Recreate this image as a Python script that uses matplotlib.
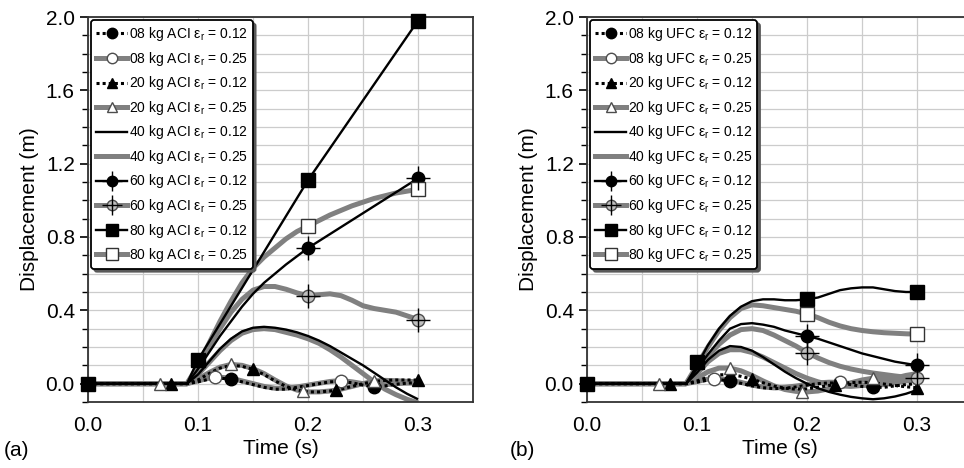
import matplotlib
matplotlib.use('Agg')
import matplotlib.pyplot as plt
from matplotlib.lines import Line2D
from matplotlib.ticker import MultipleLocator, FormatStrFormatter

plt.rcParams['font.family'] = ['Liberation Sans', 'DejaVu Sans']
plt.rcParams['mathtext.fontset'] = 'custom'
plt.rcParams['mathtext.rm'] = 'Liberation Sans'

# common time grid (s)
T = [0.0, 0.09, 0.10, 0.11, 0.12, 0.13, 0.14, 0.15, 0.16, 0.17, 0.18, 0.19,
     0.20, 0.21, 0.22, 0.23, 0.24, 0.25, 0.26, 0.27, 0.28, 0.29, 0.30]

# ---- panel (a) ACI ----
a08_12 = [0, 0, 0.01, 0.025, 0.03, 0.025, 0.01, -0.005, -0.02, -0.03, -0.03, -0.02,
          -0.01, 0.0, 0.01, 0.012, 0.005, -0.008, -0.018, -0.012, -0.003, 0.003, 0.005]
a08_25 = [0, 0, 0.015, 0.03, 0.035, 0.03, 0.015, 0.0, -0.015, -0.025, -0.025, -0.018,
          -0.008, 0.002, 0.012, 0.017, 0.01, 0.0, -0.01, -0.006, 0.0, 0.003, 0.003]
a20_12 = [0, 0, 0.02, 0.055, 0.085, 0.1, 0.095, 0.078, 0.05, 0.015, -0.015, -0.035,
          -0.045, -0.045, -0.04, -0.03, -0.015, 0.0, 0.012, 0.018, 0.02, 0.02, 0.02]
a20_25 = [0, 0, 0.025, 0.06, 0.09, 0.105, 0.1, 0.082, 0.055, 0.02, -0.012, -0.035,
          -0.045, -0.045, -0.04, -0.03, -0.015, 0.0, 0.015, 0.018, 0.016, 0.013, 0.01]
a40_12 = [0, 0, 0.05, 0.12, 0.19, 0.245, 0.285, 0.305, 0.31, 0.305, 0.295, 0.28,
          0.26, 0.235, 0.205, 0.17, 0.135, 0.1, 0.06, 0.02, -0.02, -0.055, -0.085]
a40_25 = [0, 0, 0.05, 0.115, 0.18, 0.235, 0.275, 0.295, 0.3, 0.295, 0.28, 0.265,
          0.245, 0.22, 0.185, 0.145, 0.1, 0.055, 0.01, -0.03, -0.06, -0.085, -0.105]
a60_12_t = [0.0, 0.09, 0.10, 0.11, 0.12, 0.13, 0.14, 0.15, 0.16, 0.17, 0.18, 0.19, 0.20, 0.30]
a60_12 = [0, 0, 0.08, 0.17, 0.26, 0.34, 0.42, 0.49, 0.55, 0.6, 0.65, 0.695, 0.74, 1.12]
a60_25 = [0, 0, 0.09, 0.2, 0.3, 0.39, 0.46, 0.51, 0.53, 0.53, 0.515, 0.495,
          0.48, 0.485, 0.49, 0.48, 0.455, 0.425, 0.41, 0.4, 0.39, 0.37, 0.35]
a80_12_t = [0.0, 0.09, 0.10, 0.20, 0.30]
a80_12 = [0, 0, 0.13, 1.11, 1.98]
a80_25 = [0, 0, 0.1, 0.22, 0.34, 0.45, 0.55, 0.63, 0.69, 0.74, 0.79, 0.83,
          0.86, 0.89, 0.92, 0.945, 0.97, 0.99, 1.01, 1.025, 1.04, 1.05, 1.06]

# marker points (t, d)
a08_12_mk = [(0.13, 0.025), (0.26, -0.018)]
a08_25_mk = [(0.115, 0.035), (0.23, 0.017)]
a20_12_mk = [(0.075, 0.0), (0.15, 0.078), (0.225, -0.035), (0.30, 0.02)]
a20_25_mk = [(0.065, 0.0), (0.13, 0.105), (0.195, -0.042), (0.26, 0.015)]
a60_12_mk = [(0.20, 0.74), (0.30, 1.12)]
a60_25_mk = [(0.20, 0.48), (0.30, 0.35)]
a80_12_mk = [(0.0, 0.0), (0.10, 0.13), (0.20, 1.11), (0.30, 1.98)]
a80_25_mk = [(0.20, 0.86), (0.30, 1.06)]

# ---- panel (b) UFC ----
b08_12 = [0, 0, 0.008, 0.02, 0.022, 0.015, 0.002, -0.012, -0.022, -0.027, -0.025, -0.018,
          -0.008, 0.0, 0.004, 0.003, -0.005, -0.015, -0.02, -0.02, -0.012, -0.005, 0.0]
b08_25 = [0, 0, 0.012, 0.025, 0.027, 0.02, 0.007, -0.008, -0.018, -0.023, -0.02, -0.013,
          -0.004, 0.004, 0.008, 0.007, 0.0, -0.008, -0.01, -0.005, 0.005, 0.015, 0.02]
b20_12 = [0, 0, 0.015, 0.035, 0.048, 0.05, 0.04, 0.025, 0.005, -0.013, -0.025, -0.03,
          -0.028, -0.02, -0.01, 0.0, 0.006, 0.008, 0.005, -0.002, -0.01, -0.017, -0.022]
b20_25 = [0, 0, 0.03, 0.065, 0.085, 0.085, 0.07, 0.045, 0.015, -0.012, -0.032, -0.042,
          -0.045, -0.04, -0.028, -0.012, 0.005, 0.02, 0.03, 0.033, 0.03, 0.025, 0.02]
b40_12 = [0, 0, 0.06, 0.13, 0.18, 0.205, 0.2, 0.18, 0.145, 0.105, 0.065, 0.03,
          0.0, -0.025, -0.045, -0.06, -0.072, -0.08, -0.085, -0.08, -0.07, -0.055, -0.035]
b40_25 = [0, 0, 0.055, 0.12, 0.165, 0.185, 0.185, 0.17, 0.145, 0.115, 0.085, 0.055,
          0.03, 0.01, -0.005, -0.012, -0.015, -0.01, 0.0, 0.015, 0.03, 0.045, 0.055]
b60_12 = [0, 0, 0.08, 0.16, 0.235, 0.3, 0.325, 0.33, 0.322, 0.31, 0.29, 0.275,
          0.26, 0.245, 0.225, 0.205, 0.185, 0.165, 0.15, 0.135, 0.12, 0.11, 0.1]
b60_25 = [0, 0, 0.075, 0.15, 0.215, 0.265, 0.295, 0.3, 0.29, 0.265, 0.235, 0.205,
          0.17, 0.14, 0.115, 0.095, 0.08, 0.068, 0.058, 0.05, 0.042, 0.035, 0.03]
b80_12 = [0, 0, 0.1, 0.21, 0.3, 0.37, 0.42, 0.45, 0.46, 0.46, 0.455, 0.455,
          0.46, 0.47, 0.49, 0.51, 0.52, 0.525, 0.525, 0.515, 0.505, 0.5, 0.5]
b80_25 = [0, 0, 0.1, 0.2, 0.29, 0.36, 0.41, 0.43, 0.425, 0.415, 0.405, 0.395,
          0.38, 0.36, 0.335, 0.315, 0.3, 0.29, 0.283, 0.278, 0.275, 0.272, 0.27]

b08_12_mk = [(0.13, 0.015), (0.26, -0.02)]
b08_25_mk = [(0.115, 0.026), (0.23, 0.007)]
b20_12_mk = [(0.075, 0.0), (0.15, 0.025), (0.225, -0.005), (0.30, -0.022)]
b20_25_mk = [(0.065, 0.0), (0.13, 0.085), (0.195, -0.044), (0.26, 0.03)]
b60_12_mk = [(0.20, 0.26), (0.30, 0.10)]
b60_25_mk = [(0.20, 0.17), (0.30, 0.03)]
b80_12_mk = [(0.0, 0.0), (0.10, 0.12), (0.20, 0.46), (0.30, 0.50)]
b80_25_mk = [(0.20, 0.38), (0.30, 0.27)]

GRAY = '0.5'


def style(mass, eps):
    if eps == '0.12':
        ls = (0, (1, 1)) if mass in ('08', '20') else '-'
        lw = 2.2 if mass in ('08', '20') else 1.7
        line = dict(color='black', lw=lw, ls=ls, zorder=3)
    else:
        line = dict(color=GRAY, lw=3.6, ls='-', zorder=2)
    mk = None
    if mass in ('08', '20', '60'):
        m = '^' if mass == '20' else 'o'
        if eps == '0.12':
            mk = dict(marker=m, ms=9, mfc='black', mec='black')
        elif mass == '60':
            mk = dict(marker=m, ms=9, mfc='0.75', mec='0.3')
        else:
            mk = dict(marker=m, ms=9, mfc='white', mec='0.3', mew=1.0)
    elif mass == '80':
        if eps == '0.12':
            mk = dict(marker='s', ms=10, mfc='black', mec='black')
        else:
            mk = dict(marker='s', ms=10, mfc='white', mec='0.2', mew=1.0)
    return line, mk


def legend_marker(mk):
    # slightly smaller markers inside the legend
    if mk is None:
        return {}
    d = dict(mk)
    d['ms'] = mk['ms'] - 1.5
    return d


def draw(ax, series, code):
    handles, labels = [], []
    for mass, eps, t, d, mks in series:
        line, mk = style(mass, eps)
        ax.plot(t, d, solid_capstyle='butt', **line)
        h = Line2D([], [], **line, **legend_marker(mk))
        if mks:
            mt = [p[0] for p in mks]
            md = [p[1] for p in mks]
            ax.plot(mt, md, ls='none', zorder=5, clip_on=False, **mk)
            if mass == '60':
                ax.plot(mt, md, ls='none', marker='+', ms=17, mew=1.0,
                        color='black', zorder=6, clip_on=False)
                h = (h, Line2D([], [], ls='none', marker='+', ms=14, mew=1.0, color='black'))
        handles.append(h)
        labels.append(f'{mass} kg {code} ε$_\\mathregular{{r}}$ = {eps}')
    return handles, labels


def setup(ax):
    ax.set_xlim(0, 0.35)
    ax.set_ylim(-0.1, 2.0)
    ax.xaxis.set_major_locator(MultipleLocator(0.1))
    ax.xaxis.set_minor_locator(MultipleLocator(0.05))
    ax.yaxis.set_major_locator(MultipleLocator(0.4))
    ax.yaxis.set_minor_locator(MultipleLocator(0.1))
    ax.xaxis.set_major_formatter(FormatStrFormatter('%.1f'))
    ax.yaxis.set_major_formatter(FormatStrFormatter('%.1f'))
    ax.grid(True, which='both', color='0.8', lw=0.9)
    ax.set_axisbelow(True)
    ax.tick_params(axis='x', which='both', length=0, pad=10, labelsize=15)
    ax.tick_params(axis='y', which='major', length=6, width=1.2, direction='out', labelsize=15)
    ax.tick_params(axis='y', which='minor', length=4, width=1.0, direction='out')
    for s in ax.spines.values():
        s.set_linewidth(1.3)
        s.set_color('0.2')
    ax.set_xlabel('Time (s)', fontsize=15, labelpad=3)
    ax.set_ylabel('Displacement (m)', fontsize=15, labelpad=5)


fig = plt.figure(figsize=(9.64, 4.68), dpi=100)
ax_a = fig.add_axes([88 / 964, 66 / 468, 385 / 964, 385 / 468])
ax_b = fig.add_axes([587 / 964, 66 / 468, 385 / 964, 385 / 468])

series_a = [
    ('08', '0.12', T, a08_12, a08_12_mk), ('08', '0.25', T, a08_25, a08_25_mk),
    ('20', '0.12', T, a20_12, a20_12_mk), ('20', '0.25', T, a20_25, a20_25_mk),
    ('40', '0.12', T, a40_12, None), ('40', '0.25', T, a40_25, None),
    ('60', '0.12', a60_12_t, a60_12, a60_12_mk), ('60', '0.25', T, a60_25, a60_25_mk),
    ('80', '0.12', a80_12_t, a80_12, a80_12_mk), ('80', '0.25', T, a80_25, a80_25_mk),
]
series_b = [
    ('08', '0.12', T, b08_12, b08_12_mk), ('08', '0.25', T, b08_25, b08_25_mk),
    ('20', '0.12', T, b20_12, b20_12_mk), ('20', '0.25', T, b20_25, b20_25_mk),
    ('40', '0.12', T, b40_12, None), ('40', '0.25', T, b40_25, None),
    ('60', '0.12', T, b60_12, b60_12_mk), ('60', '0.25', T, b60_25, b60_25_mk),
    ('80', '0.12', T, b80_12, b80_12_mk), ('80', '0.25', T, b80_25, b80_25_mk),
]

for ax, series, code in [(ax_a, series_a, 'ACI'), (ax_b, series_b, 'UFC')]:
    setup(ax)
    handles, labels = draw(ax, series, code)
    leg = ax.legend(handles, labels, loc='upper left', fontsize=10, frameon=True,
                    fancybox=True, shadow={'color': '0.35', 'alpha': 1.0},
                    handlelength=2.2, handletextpad=0.15, labelspacing=0.47,
                    borderpad=0.35, borderaxespad=0.25, framealpha=1,
                    edgecolor='black')
    leg.get_frame().set_linewidth(1.3)

fig.text(0.004, 0.025, '(a)', fontsize=15)
fig.text(0.529, 0.025, '(b)', fontsize=15)

fig.savefig('out.png', dpi=100)
